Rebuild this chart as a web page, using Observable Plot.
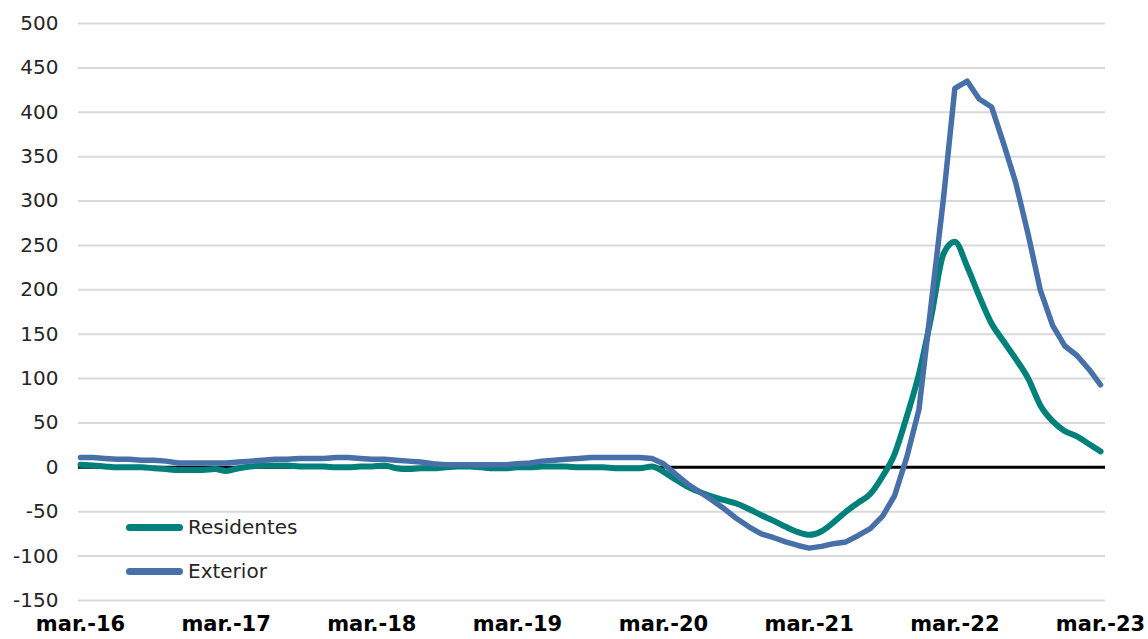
<!DOCTYPE html>
<html><head><meta charset="utf-8">
<script src="https://cdn.jsdelivr.net/npm/d3@7"></script>
<script src="https://cdn.jsdelivr.net/npm/@observablehq/plot@0.6"></script>
<style>
body{margin:0;background:#fff;font-family:"DejaVu Sans",Verdana,sans-serif;}
#wrap{position:relative;width:1148px;height:639px;overflow:hidden;}
.legend{position:absolute;left:126px;top:505px;font-size:20px;color:#262626;}
.legend .row{display:flex;align-items:center;height:44px;}
.legend .sw{display:inline-block;width:57px;height:7px;border-radius:4px;margin-right:5px;}
</style></head><body><div id="wrap"></div>
<script>
const seriesNames = ["Residentes", "Exterior"];
const seriesColors = ["#00807a", "#4870a8"];
const residentes = [
  3,2,1,0,0,0,-1,-2,-3,-3,-3,-2,
  -4,-1,1,2,2,2,1,1,1,0,0,1,
  1,2,-1,-2,-1,-1,0,1,1,0,-1,-1,
  0,0,1,1,1,0,0,0,-1,-1,-1,1,
  -5,-14,-22,-28,-33,-37,-41,-47,-54,-60,-67,-73,
  -76,-72,-62,-50,-40,-30,-10,15,58,105,170,241,
  254,226,193,162,142,122,100,70,52,41,35,26,18
];
const exterior = [
  11,11,10,9,9,8,8,7,5,5,5,5,
  5,6,7,8,9,9,10,10,10,11,11,10,
  9,9,8,7,6,4,3,3,3,3,3,3,
  4,5,7,8,9,10,11,11,11,11,11,10,
  4,-8,-19,-28,-37,-47,-58,-67,-75,-79,-84,-88,
  -91,-89,-86,-84,-77,-69,-55,-32,12,65,185,305,
  427,435,415,406,365,320,262,200,160,137,126,110,93
];
const tickLabels = ["mar.-16","mar.-17","mar.-18","mar.-19","mar.-20","mar.-21","mar.-22","mar.-23"];
const yTicks = [-150,-100,-50,0,50,100,150,200,250,300,350,400,450,500];

const monthDate = i => new Date(Date.UTC(2016, 2 + i, 1));
const data = [];
residentes.forEach((v, i) => data.push({date: monthDate(i), value: v, serie: seriesNames[0]}));
exterior.forEach((v, i) => data.push({date: monthDate(i), value: v, serie: seriesNames[1]}));
const tickDates = tickLabels.map((_, i) => new Date(Date.UTC(2016 + i, 2, 1)));
const labelOf = d => tickLabels[d.getUTCFullYear() - 2016];

const chart = Plot.plot({
  width: 1148,
  height: 639,
  marginLeft: 80,
  marginRight: 48,
  marginTop: 23,
  marginBottom: 39,
  style: {fontFamily: '"DejaVu Sans", Verdana, sans-serif', background: "#fff", color: "#262626"},
  x: {type: "utc", domain: [tickDates[0], tickDates[tickDates.length - 1]]},
  y: {domain: [-150, 500]},
  color: {domain: seriesNames, range: seriesColors},
  marks: [
    Plot.ruleY(yTicks.filter(t => t !== 0), {stroke: "#d9d9d9", strokeWidth: 2, insetLeft: -2, insetRight: -5}),
    Plot.ruleY([0], {stroke: "#000", strokeWidth: 3, insetLeft: -2, insetRight: -5}),
    Plot.line(data.filter(d => d.serie === seriesNames[0]), {x: "date", y: "value", stroke: "serie", strokeWidth: 6, curve: "monotone-x", strokeLinejoin: "round", strokeLinecap: "round"}),
    Plot.line(data.filter(d => d.serie === seriesNames[1]), {x: "date", y: "value", stroke: "serie", strokeWidth: 5.5, curve: "linear", strokeLinejoin: "round", strokeLinecap: "round"}),
    Plot.axisY({ticks: yTicks, tickSize: 0, tickPadding: 22, fontSize: 20, fill: "#262626", label: null, tickFormat: d => String(d)}),
    Plot.axisX({ticks: tickDates, tickSize: 0, tickPadding: 16, fontSize: 21, fontWeight: "bold", fill: "#000", label: null, tickFormat: labelOf})
  ]
});
const wrap = document.getElementById("wrap");
wrap.appendChild(chart);

const legend = document.createElement("div");
legend.className = "legend";
seriesNames.forEach((n, i) => {
  const row = document.createElement("div");
  row.className = "row";
  const sw = document.createElement("span");
  sw.className = "sw";
  sw.style.background = seriesColors[i];
  const tx = document.createElement("span");
  tx.textContent = n;
  row.appendChild(sw); row.appendChild(tx);
  legend.appendChild(row);
});
wrap.appendChild(legend);
</script>
</body></html>
